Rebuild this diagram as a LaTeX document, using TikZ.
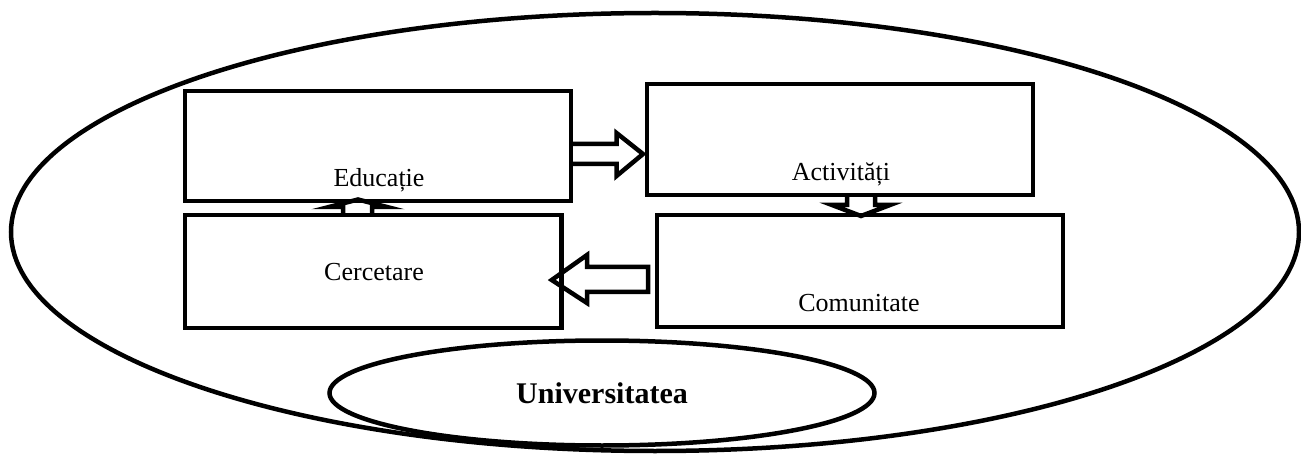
\documentclass[tikz,border=0pt]{standalone}
\usepackage{fontspec}
\setmainfont{Liberation Serif}
\usetikzlibrary{calc,positioning,shapes.geometric}

\tikzset{
  box/.style={rectangle, draw, line width=4.5pt, outer sep=0pt},
  blk/.style={draw, line width=4.5pt},
  oval/.style={ellipse, draw, line width=4.5pt},
  txt/.style={font=\fontsize{26}{30}\selectfont, inner sep=0pt, anchor=base},
}

\begin{document}
\begin{tikzpicture}[x=1pt, y=-1pt]
    \useasboundingbox (0,0) rectangle (1301,454);

    \node[oval, minimum width=1288pt, minimum height=438pt] (campus) at (655,232) {};
    \node[oval, minimum width=545pt, minimum height=105pt, font=\bfseries\fontsize{30}{36}\selectfont] (univ) at (602,393) {Universitatea};

    \node[box, minimum width=386pt, minimum height=110pt] (edu) at (378,146) {};
    \node[box, minimum width=386pt, minimum height=111pt] (act) at (840,139.5) {};
    \node[box, minimum width=376.5pt, minimum height=113pt] (cer) at (373,271.5) {};
    \node[box, minimum width=406pt, minimum height=112pt] (com) at (860,271) {};

    \node[txt] (edu-lbl) at ($(edu.south)+(1,-14.5)$) {Educație};
    \node[txt] (act-lbl) at ($(act.south)+(1,-14)$) {Activități};
    \node[txt] (cer-lbl) at ($(cer.center)+(1,9.5)$) {Cercetare};
    \node[txt] (com-lbl) at ($(com.south)+(-1,-15)$) {Comunitate};

    % Educatie -> Activitati
    \draw[blk] ($(edu.east)+(0,-2)$) -- ++(45.5,0) -- ++(0,-11) -- ($(act.west)+(-4,14.5)$)
        -- ($(edu.east)+(45.5,30)$) -- ++(0,-12) -- ($(edu.east)+(0,18)$);
    % Activitati -> Comunitate
    \draw[blk] ($(act.south)+(7,0)$) -- ++(0,10) -- ++(-15,0) -- ($(com.north)+(1,1)$)
        -- ($(act.south)+(50,10)$) -- ++(-15,0) -- ++(0,-10);
    % Comunitate -> Cercetare
    \draw[blk] ($(com.west)+(-9,-4)$) -- ++(-61,0) -- ++(0,-12) -- ($(cer.east)+(-9.5,8.5)$)
        -- ($(com.west)+(-70,32)$) -- ++(0,-11) -- ($(com.west)+(-9,21)$) -- cycle;
    % Cercetare -> Educatie
    \draw[blk] ($(cer.north)+(-30,0)$) -- ++(0,-8) -- ++(-14,0) -- ($(edu.south)+(-20,-1.5)$)
        -- ($(cer.north)+(14,-8)$) -- ++(-15,0) -- ++(0,8);
\end{tikzpicture}
\end{document}
